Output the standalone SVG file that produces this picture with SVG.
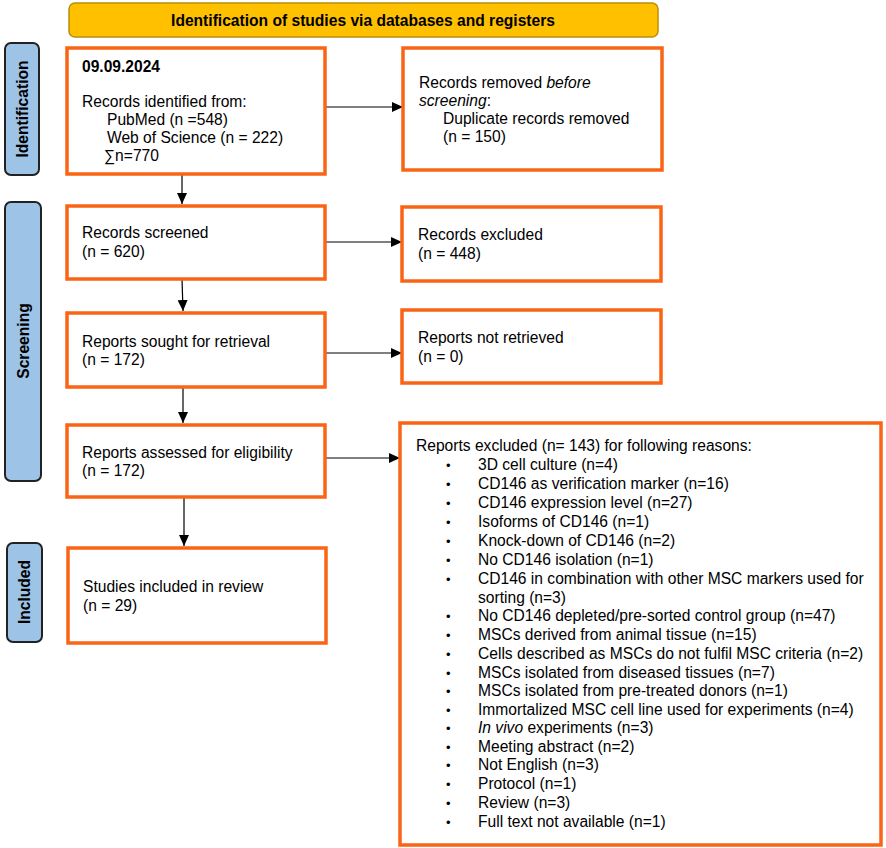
<svg xmlns="http://www.w3.org/2000/svg" width="886" height="848" viewBox="0 0 886 848">
<style>
text{font-family:"Liberation Sans",Arial,sans-serif;font-size:15.6px;fill:#000}
.b{font-weight:bold}
.box{fill:#fff;stroke:#FA6414;stroke-width:3.5}
.side{fill:#9DC3E6;stroke:#222;stroke-width:2}
.c{stroke:#000;stroke-width:1.2;fill:none}
.dot{font-size:13px}
</style>
<defs>
<marker id="ah" markerUnits="userSpaceOnUse" markerWidth="12" markerHeight="12" viewBox="0 0 12 12" refX="11" refY="6" orient="auto">
<path d="M0,1 L11,6 L0,11 Z" fill="#000"/>
</marker>
</defs>
<rect width="886" height="848" fill="#fff"/>
<g id="header">
<rect x="69" y="3" width="589" height="34" rx="6" fill="#FFC000" stroke="#B8900A" stroke-width="1.5"/>
<text x="363" y="26" text-anchor="middle" class="b">Identification of studies via databases and registers</text>
</g>
<g id="side-identification">
<rect class="side" x="5" y="43" width="34" height="132" rx="6"/>
<text class="b" transform="translate(28,109) rotate(-90)" text-anchor="middle">Identification</text>
</g>
<g id="side-screening">
<rect class="side" x="5" y="202" width="36" height="279" rx="6"/>
<text class="b" transform="translate(29,341) rotate(-90)" text-anchor="middle">Screening</text>
</g>
<g id="side-included">
<rect class="side" x="7" y="543" width="35" height="99" rx="6"/>
<text class="b" transform="translate(30,592) rotate(-90)" text-anchor="middle">Included</text>
</g>
<g id="connectors">
<line class="c" x1="325" y1="107" x2="403" y2="107" marker-end="url(#ah)"/>
<line class="c" x1="182" y1="174" x2="182" y2="204" marker-end="url(#ah)"/>
<line class="c" x1="325" y1="242" x2="402" y2="242" marker-end="url(#ah)"/>
<line class="c" x1="182" y1="279" x2="183" y2="311" marker-end="url(#ah)"/>
<line class="c" x1="325" y1="353" x2="402" y2="353" marker-end="url(#ah)"/>
<line class="c" x1="183" y1="387" x2="183" y2="423" marker-end="url(#ah)"/>
<line class="c" x1="325" y1="458" x2="400" y2="458" marker-end="url(#ah)"/>
<line class="c" x1="184" y1="497" x2="184" y2="546" marker-end="url(#ah)"/>
</g>
<g id="identified">
<rect class="box" x="67" y="48" width="258" height="126"/>
<text x="82" y="72" class="b">09.09.2024</text>
<text x="82" y="107">Records identified from:</text>
<text x="107" y="125">PubMed (n =548)</text>
<text x="107" y="143">Web of Science (n = 222)</text>
<text x="104" y="161">∑n=770</text>
</g>
<g id="removed">
<rect class="box" x="403" y="48" width="259" height="122"/>
<text x="419" y="88">Records removed <tspan font-style="italic">before</tspan></text>
<text x="419" y="106"><tspan font-style="italic">screening</tspan>:</text>
<text x="443" y="124">Duplicate records removed</text>
<text x="443" y="142">(n = 150)</text>
</g>
<g id="screened">
<rect class="box" x="67" y="206" width="258" height="73"/>
<text x="82" y="238">Records screened</text>
<text x="82" y="257">(n = 620)</text>
</g>
<g id="excluded">
<rect class="box" x="402" y="207" width="259" height="74"/>
<text x="418" y="240">Records excluded</text>
<text x="418" y="259">(n = 448)</text>
</g>
<g id="sought">
<rect class="box" x="67" y="313" width="258" height="74"/>
<text x="82" y="347">Reports sought for retrieval</text>
<text x="82" y="365">(n = 172)</text>
</g>
<g id="notretrieved">
<rect class="box" x="402" y="310" width="259" height="73"/>
<text x="418" y="343">Reports not retrieved</text>
<text x="418" y="362">(n = 0)</text>
</g>
<g id="assessed">
<rect class="box" x="67" y="425" width="258" height="72"/>
<text x="82" y="458">Reports assessed for eligibility</text>
<text x="82" y="476">(n = 172)</text>
</g>
<g id="reportsexcluded">
<rect class="box" x="400" y="423" width="481" height="422"/>
<text x="416" y="451">Reports excluded (n= 143) for following reasons:</text>
<g>
<text class="dot" x="446" y="470">•</text><text x="478" y="470">3D cell culture (n=4)</text>
<text class="dot" x="446" y="489">•</text><text x="478" y="489">CD146 as verification marker (n=16)</text>
<text class="dot" x="446" y="508">•</text><text x="478" y="508">CD146 expression level (n=27)</text>
<text class="dot" x="446" y="527">•</text><text x="478" y="527">Isoforms of CD146 (n=1)</text>
<text class="dot" x="446" y="546">•</text><text x="478" y="546">Knock-down of CD146 (n=2)</text>
<text class="dot" x="446" y="565">•</text><text x="478" y="565">No CD146 isolation (n=1)</text>
<text class="dot" x="446" y="584">•</text><text x="478" y="584">CD146 in combination with other MSC markers used for</text>
<text x="478" y="603">sorting (n=3)</text>
<text class="dot" x="446" y="621">•</text><text x="478" y="621">No CD146 depleted/pre-sorted control group (n=47)</text>
<text class="dot" x="446" y="640">•</text><text x="478" y="640">MSCs derived from animal tissue (n=15)</text>
<text class="dot" x="446" y="659">•</text><text x="478" y="659">Cells described as MSCs do not fulfil MSC criteria (n=2)</text>
<text class="dot" x="446" y="678">•</text><text x="478" y="678">MSCs isolated from diseased tissues (n=7)</text>
<text class="dot" x="446" y="696">•</text><text x="478" y="696">MSCs isolated from pre-treated donors (n=1)</text>
<text class="dot" x="446" y="715">•</text><text x="478" y="715">Immortalized MSC cell line used for experiments (n=4)</text>
<text class="dot" x="446" y="733">•</text><text x="478" y="733"><tspan font-style="italic">In vivo</tspan> experiments (n=3)</text>
<text class="dot" x="446" y="752">•</text><text x="478" y="752">Meeting abstract (n=2)</text>
<text class="dot" x="446" y="770">•</text><text x="478" y="770">Not English (n=3)</text>
<text class="dot" x="446" y="789">•</text><text x="478" y="789">Protocol (n=1)</text>
<text class="dot" x="446" y="808">•</text><text x="478" y="808">Review (n=3)</text>
<text class="dot" x="446" y="827">•</text><text x="478" y="827">Full text not available (n=1)</text>
</g>
</g>
<g id="included">
<rect class="box" x="68" y="548" width="258" height="95"/>
<text x="83" y="592">Studies included in review</text>
<text x="83" y="611">(n = 29)</text>
</g>
</svg>
